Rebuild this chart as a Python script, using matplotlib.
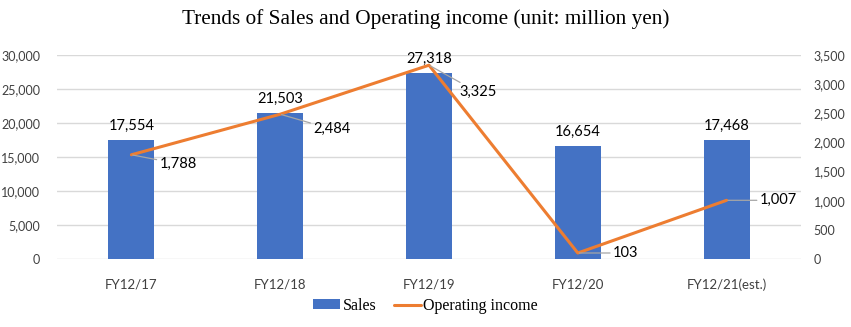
import matplotlib
matplotlib.use("Agg")
import matplotlib.pyplot as plt
from matplotlib.ticker import FuncFormatter, MultipleLocator

categories = ["FY12/17", "FY12/18", "FY12/19", "FY12/20", "FY12/21(est.)"]
sales = [17554, 21503, 27318, 16654, 17468]
operating_income = [1788, 2484, 3325, 103, 1007]

# label offsets (pixels) for the operating income data labels
oi_label_offsets = [(28, -9), (33, -15), (30, -27), (35, 0), (33, 0)]

BAR_COLOR = "#4472C4"
LINE_COLOR = "#ED7D31"
GRID_COLOR = "#D9D9D9"
TEXT_COLOR = "#000000"
SANS = ["Lato", "DejaVu Sans"]
SERIF = ["Liberation Serif", "DejaVu Serif"]

fig = plt.figure(figsize=(8.51, 3.27), dpi=100)
ax = fig.add_axes([57 / 851, 1 - 259 / 327, 744 / 851, 204 / 327])
ax2 = ax.twinx()

x = list(range(len(categories)))
bars = ax.bar(x, sales, width=0.31, color=BAR_COLOR, zorder=2, label="Sales")
line, = ax2.plot(x, operating_income, color=LINE_COLOR, linewidth=2.2,
                 solid_capstyle="round", zorder=3, label="Operating income")

ax.set_xlim(-0.5, len(categories) - 0.5)
ax.set_ylim(0, 30000)
ax2.set_ylim(0, 3500)
ax.yaxis.set_major_locator(MultipleLocator(5000))
ax2.yaxis.set_major_locator(MultipleLocator(500))
fmt = FuncFormatter(lambda v, p: f"{int(v):,}")
ax.yaxis.set_major_formatter(fmt)
ax2.yaxis.set_major_formatter(fmt)

ax.grid(axis="y", color=GRID_COLOR, linewidth=1.0, zorder=0)
ax.set_axisbelow(True)
for a in (ax, ax2):
    for s in a.spines.values():
        s.set_visible(False)
    a.tick_params(length=0, labelsize=9, colors="#404040")
ax.set_xticks(x)
ax.set_xticklabels(categories, fontfamily=SANS, fontsize=9.5, color="#404040")
ax.tick_params(axis="x", pad=14)
ax.tick_params(axis="y", pad=12)
ax2.tick_params(axis="y", pad=9)
for lbl in ax.get_yticklabels() + ax2.get_yticklabels():
    lbl.set_fontfamily(SANS)

ax2.set_zorder(ax.get_zorder() + 1)
ax2.patch.set_visible(False)

# bar value labels
for xi, v in zip(x, sales):
    ax.annotate(f"{v:,}", (xi, v), xytext=(0, 5), textcoords="offset points",
                ha="center", va="bottom", fontsize=10.5, fontfamily=SANS,
                color=TEXT_COLOR)

# line value labels with leader lines
for xi, v, (dx, dy) in zip(x, operating_income, oi_label_offsets):
    ax2.annotate(f"{v:,}", (xi, v), xytext=(dx, dy), textcoords="offset pixels",
                 ha="left", va="center", fontsize=10.5, fontfamily=SANS,
                 color=TEXT_COLOR, zorder=4,
                 arrowprops=dict(arrowstyle="-", color="#A6A6A6", lw=0.9,
                                 shrinkA=0, shrinkB=1))

fig.text(0.5, 1 - 19 / 327, "Trends of Sales and Operating income (unit: million yen)",
         ha="center", va="center", fontsize=15.3, fontfamily=SERIF, color="#000000")

fig.legend(handles=[bars, line], labels=["Sales", "Operating income"],
           loc="center", bbox_to_anchor=(0.5, 1 - 306 / 327), ncol=2,
           frameon=False, prop={"family": SERIF, "size": 11.5},
           handlelength=1.7, handleheight=0.6, columnspacing=1.1,
           handletextpad=0.15)

fig.savefig("out.png", dpi=100)
